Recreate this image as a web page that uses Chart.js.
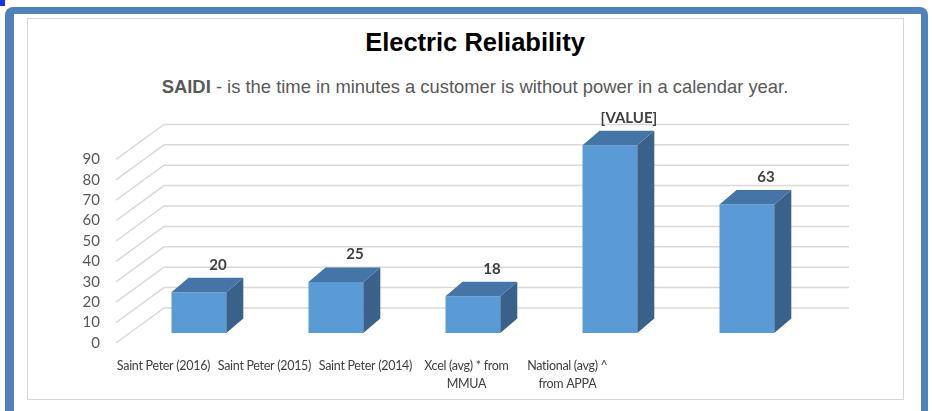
<!DOCTYPE html>
<html>
<head>
<meta charset="utf-8">
<title>Electric Reliability</title>
<script src="https://cdn.jsdelivr.net/npm/chart.js@4.4.1/dist/chart.umd.min.js"></script>
<style>
    html, body { margin: 0; padding: 0; background: #fff; }
    body { width: 932px; height: 411px; position: relative; overflow: hidden; font-family: "Liberation Sans", Arial, sans-serif; }
    .corner-mark { position: absolute; left: 0; top: 0; width: 5px; height: 6px; background: #1633e6; }
    .frame {
        position: absolute; left: 5px; top: 7px; width: 907px; height: 430px;
        border: solid #4f81bd; border-width: 7px 7px 0 9px; border-radius: 8px 8px 0 0;
    }
    .panel {
        position: absolute; left: 27px; top: 18px; width: 877px; height: 382px;
        box-sizing: border-box; border: 1px solid #d6d6d6; background: #fff;
    }
    .title {
        position: absolute; left: 0; width: 950px; top: 27px; line-height: 30px;
        text-align: center; font-size: 25.5px; font-weight: bold; color: #000;
    }
    .subtitle {
        position: absolute; left: 0; width: 950px; top: 77px; line-height: 20px;
        text-align: center; font-size: 18.4px; color: #595959;
    }
    #chart { position: absolute; left: 0; top: 0; }
</style>
</head>
<body>
<div class="corner-mark"></div>
<div class="frame"></div>
<div class="panel"></div>
<div class="title">Electric Reliability</div>
<div class="subtitle"><b>SAIDI</b> - is the time in minutes a customer is without power in a calendar year.</div>
<canvas id="chart" width="932" height="411"></canvas>
<script>
const categories = [
    ['Saint Peter (2016)'],
    ['Saint Peter (2015)'],
    ['Saint Peter (2014)'],
    ['Xcel (avg) * from', 'MMUA'],
    ['National (avg) ^', 'from APPA']
];
const saidiMinutes = [20, 25, 18, 92, 63];
const valueLabels = ['20', '25', '18', '[VALUE]', '63'];
const yTicks = [0, 10, 20, 30, 40, 50, 60, 70, 80, 90];

// 3d look: back wall offset, bar plane offset and bar depth
const WALL_DX = 47, WALL_DY = -35;
const BAR_DX = 13.4, BAR_DY = -10;
const DEPTH_DX = 17, DEPTH_DY = -14.5;
const LABEL_SQUEEZE = 0.737;

const frontColor = '#5b9bd5';
const topColor = '#4575a6';
const sideColor = '#3a6189';
const gridColor = '#d9d9d9';

const depthPlugin = {
    id: 'depth3d',
    beforeDatasetsDraw(chart) {
        const { ctx, chartArea } = chart;
        const y = chart.scales.y;
        ctx.save();
        ctx.strokeStyle = gridColor;
        ctx.lineWidth = 1.5;
        yTicks.forEach(v => {
            const fy = y.getPixelForValue(v);
            ctx.beginPath();
            ctx.moveTo(chartArea.left - 1, fy);
            ctx.lineTo(chartArea.left + WALL_DX, fy + WALL_DY);
            ctx.lineTo(chartArea.right + WALL_DX, fy + WALL_DY);
            ctx.stroke();
        });
        ctx.restore();

        // bars sit a little way into the depth
        ctx.save();
        ctx.translate(BAR_DX, BAR_DY);
    },
    afterDatasetsDraw(chart) {
        const { ctx, chartArea } = chart;
        const meta = chart.getDatasetMeta(0);

        meta.data.forEach((bar, i) => {
            const { x, y, base, width } = bar.getProps(['x', 'y', 'base', 'width'], true);
            const l = x - width / 2;
            const r = x + width / 2;

            ctx.fillStyle = sideColor;
            ctx.beginPath();
            ctx.moveTo(r, y);
            ctx.lineTo(r + DEPTH_DX, y + DEPTH_DY);
            ctx.lineTo(r + DEPTH_DX, base + DEPTH_DY);
            ctx.lineTo(r, base);
            ctx.closePath();
            ctx.fill();

            ctx.fillStyle = topColor;
            ctx.beginPath();
            ctx.moveTo(l, y);
            ctx.lineTo(l + DEPTH_DX, y + DEPTH_DY);
            ctx.lineTo(r + DEPTH_DX, y + DEPTH_DY);
            ctx.lineTo(r, y);
            ctx.closePath();
            ctx.fill();

            ctx.fillStyle = '#404040';
            ctx.font = 'bold 15px Lato';
            ctx.textAlign = 'center';
            ctx.textBaseline = 'middle';
            ctx.fillText(valueLabels[i], x + DEPTH_DX + 2, y + DEPTH_DY - 13);
        });
        ctx.restore();

        // category labels along the front edge of the floor
        const xScale = chart.scales.x;
        ctx.save();
        ctx.fillStyle = '#404040';
        ctx.font = '12.5px Lato';
        ctx.letterSpacing = '-0.3px';
        ctx.textAlign = 'center';
        ctx.textBaseline = 'middle';
        categories.forEach((lines, i) => {
            const px = xScale.getPixelForValue(i);
            const lx = chartArea.left + LABEL_SQUEEZE * (px - chartArea.left) - 4;
            lines.forEach((line, j) => {
                ctx.fillText(line, lx, chartArea.bottom + 23 + j * 18);
            });
        });
        ctx.restore();
    }
};

new Chart(document.getElementById('chart'), {
    type: 'bar',
    data: {
        labels: categories,
        datasets: [{
            data: saidiMinutes,
            backgroundColor: frontColor,
            barPercentage: 0.4,
            categoryPercentage: 1.0,
            clip: false
        }]
    },
    options: {
        responsive: false,
        animation: false,
        devicePixelRatio: 1,
        layout: { padding: { left: 60, right: 130, top: 139, bottom: 68 } },
        scales: {
            x: { display: false },
            y: {
                min: 0,
                max: 100,
                afterFit: (scale) => { scale.width = 57; },
                grid: { display: false },
                border: { display: false },
                ticks: {
                    stepSize: 10,
                    autoSkip: false,
                    padding: 9,
                    color: '#595959',
                    font: { family: 'Lato', size: 15 },
                    callback: (value) => value === 100 ? '' : value
                }
            }
        },
        plugins: {
            legend: { display: false },
            tooltip: { enabled: false }
        }
    },
    plugins: [depthPlugin]
});
</script>
</body>
</html>
